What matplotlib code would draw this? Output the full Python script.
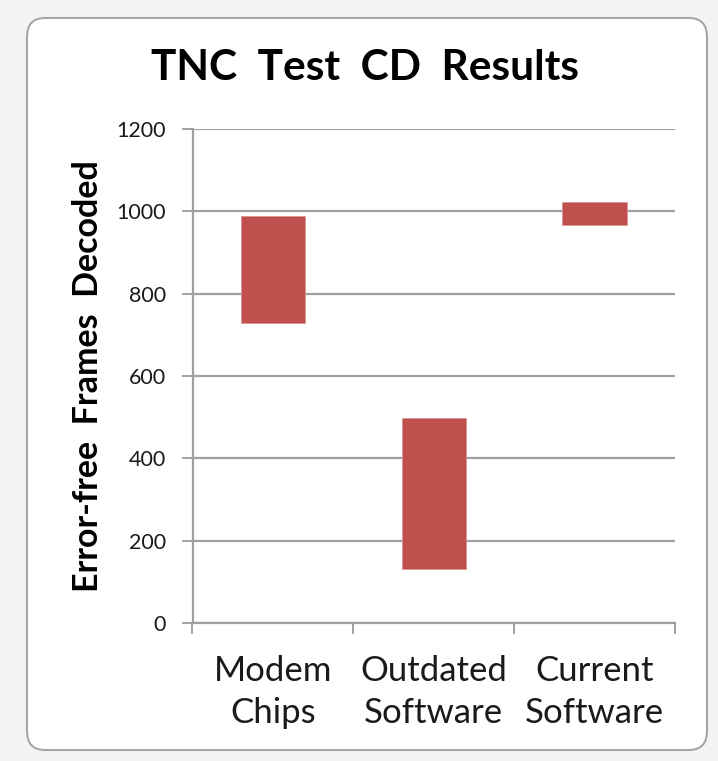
import matplotlib
matplotlib.use("Agg")
import matplotlib.pyplot as plt
from matplotlib.patches import FancyBboxPatch

categories = ["Modem\nChips", "Outdated\nSoftware", "Current\nSoftware"]
low_values = [728, 130, 966]
high_values = [988, 499, 1022]
y_ticks = [0, 200, 400, 600, 800, 1000, 1200]

plt.rcParams['font.family'] = ['Lato', 'DejaVu Sans']

fig = plt.figure(figsize=(7.18, 7.61), dpi=100)
fig.patch.set_facecolor("#f4f4f4")

# chart area with rounded border
frame = FancyBboxPatch((27/718, 1-750/761), (707-27)/718, (750-18)/761,
                       boxstyle="round,pad=0,rounding_size=0.025",
                       transform=fig.transFigure, facecolor="white",
                       edgecolor="#a6a6a6", linewidth=1.5, zorder=-5)
fig.patches.append(frame)

ax = fig.add_axes([192.5/718, 1-623/761, (675-192.5)/718, (623-129)/761])
ax.set_facecolor("none")
ax.set_zorder(2)

x = list(range(len(categories)))
heights = [h - l for h, l in zip(high_values, low_values)]
ax.bar(x, heights, bottom=low_values, width=0.4, color="#C0504D",
       edgecolor="#D99694", linewidth=0.6, zorder=3)

ax.set_xlim(-0.5, 2.5)
ax.set_ylim(0, 1200)
ax.set_yticks(y_ticks)
ax.set_yticklabels([str(v) for v in y_ticks], fontsize=15.5, color="#1a1a1a")
ax.yaxis.grid(True, color="#a0a0a0", linewidth=1.6, zorder=1)
ax.set_axisbelow(True)
ax.tick_params(axis='y', length=8, width=1.4, color="#a0a0a0", pad=11)

ax.set_xticks([-0.5, 0.5, 1.5, 2.5])
ax.set_xticklabels([])
ax.set_xticks(x, minor=True)
ax.set_xticklabels(categories, minor=True, fontsize=25, color="#1a1a1a",
                   linespacing=1.38)
ax.tick_params(axis='x', which='major', length=8, width=1.4, color="#a0a0a0",
               direction='out')
ax.tick_params(axis='x', which='minor', length=0, pad=23)

for s in ["top", "right"]:
    ax.spines[s].set_visible(False)
for s in ["left", "bottom"]:
    ax.spines[s].set_color("#a0a0a0")
    ax.spines[s].set_linewidth(1.6)

fig.text(88/718, 1-376/761, "Error-free  Frames  Decoded", fontsize=24.5,
         fontweight="bold", rotation=90, ha="center", va="center")
fig.text(365/718, 1-68/761, "TNC  Test  CD  Results", fontsize=30.5,
         fontweight="bold", ha="center", va="center")

fig.savefig("out.png", dpi=100, facecolor=fig.get_facecolor())
